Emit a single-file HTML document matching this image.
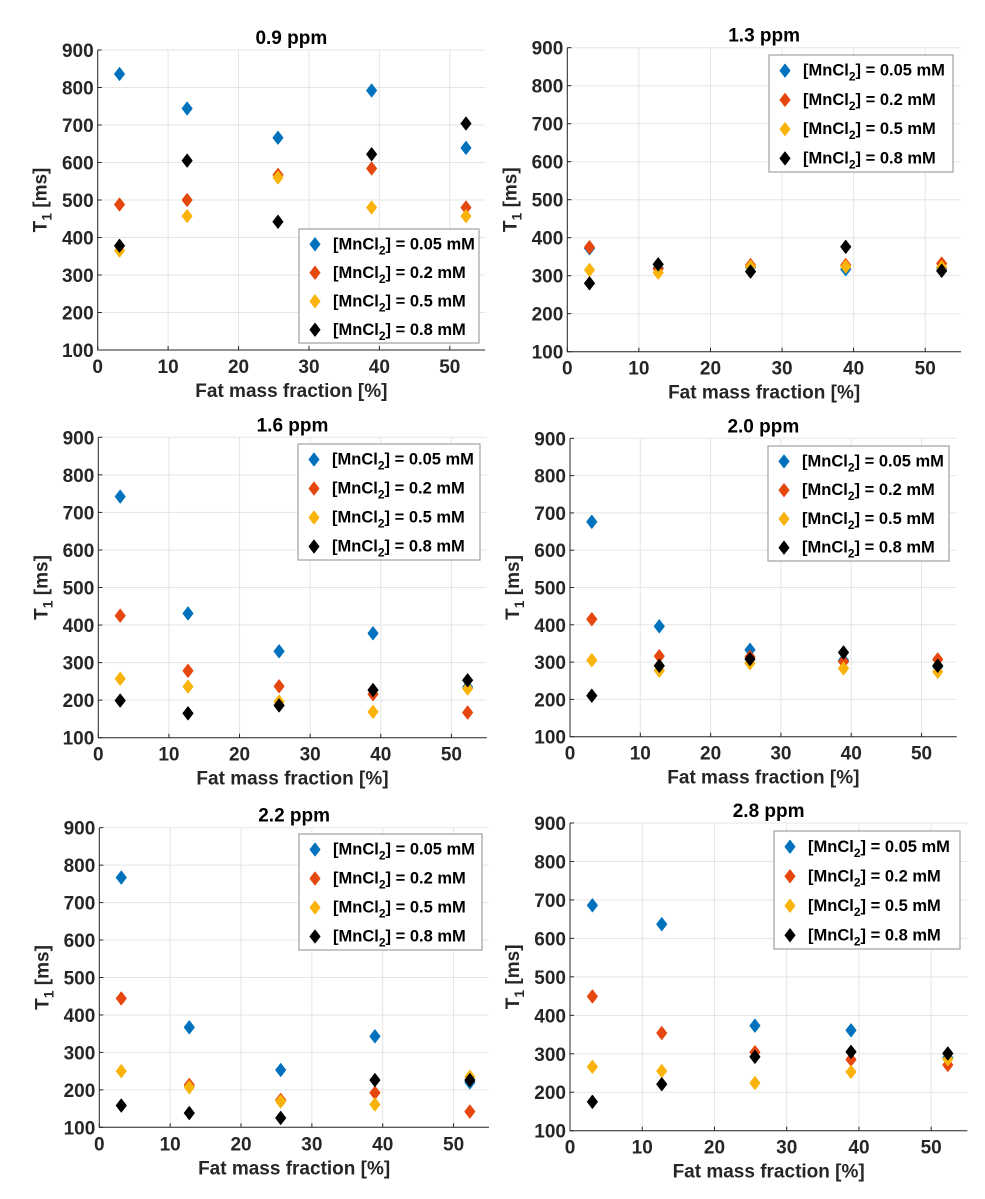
<!DOCTYPE html>
<html><head><meta charset="utf-8"><style>
html,body{margin:0;padding:0;background:#fff;}
svg{display:block;font-family:"Liberation Sans",Arial,sans-serif;font-weight:bold;}
</style></head><body>
<svg id="fig" width="985" height="1199" viewBox="0 0 985 1199" xmlns="http://www.w3.org/2000/svg"></svg>
<script>
const xTicks = [0,10,20,30,40,50];
const yTicks = [100,200,300,400,500,600,700,800,900];
const fatFraction = [3.1,12.7,25.6,38.9,52.3];
const seriesLabels = ["0.05","0.2","0.5","0.8"];
const seriesColors = ["#0072BD","#E6470F","#F9B30B","#000000"];
const titles = ["0.9 ppm","1.3 ppm","1.6 ppm","2.0 ppm","2.2 ppm","2.8 ppm"];
const p09 = [[836,744,666,792,639],[488,500,567,584,480],[365,457,560,480,457],[378,605,442,622,704]];
const p13 = [[372,320,322,317,320],[375,318,328,328,332],[315,308,324,324,322],[280,330,311,376,313]];
const p16 = [[742,431,330,378,235],[425,278,237,216,167],[257,236,196,169,231],[199,165,186,227,253]];
const p20 = [[676,396,333,305,288],[415,316,314,301,307],[305,277,297,283,274],[210,290,308,326,290]];
const p22 = [[767,367,253,343,220],[444,213,173,192,142],[250,207,169,161,235],[158,138,125,226,226]];
const p28 = [[686,637,373,361,290],[449,354,304,285,271],[266,255,224,253,286],[175,221,292,305,301]];
const panelData = [p09,p13,p16,p20,p22,p28];
// layout: [left,right,top,bottom, legend x1,y1,x2,y2]
const layout = [
 [97.7,485,50,350, 299,229,479,343],
 [567.3,961,47.7,351.7, 769,55,953,172],
 [98.3,486.7,437.3,737.7, 298,444,480,560],
 [570,956.7,438.3,736.7, 768,446,949,561],
 [99.3,489,827.7,1127.3, 299,834,482,950],
 [570,967.3,823,1130.7, 774,831,960,949]
];
const NS="http://www.w3.org/2000/svg";
const fig=document.getElementById('fig');
function mk(tag,attrs,parent){const e=document.createElementNS(NS,tag);for(const k in attrs)e.setAttribute(k,attrs[k]);(parent||fig).appendChild(e);return e;}
function diamond(g,cx,cy,col){return mk('path',{d:`M${cx} ${cy-6.5}L${cx+5} ${cy}L${cx} ${cy+6.5}L${cx-5} ${cy}Z`,fill:col,stroke:col,'stroke-width':1,'stroke-linejoin':'round'},g);}
panelData.forEach((data,pi)=>{
  const [L,R,T,B,lx1,ly1,lx2,ly2]=layout[pi];
  const g=mk('g',{});
  
  
  const xs=v=>L+(v/55)*(R-L);
  const ys=v=>B-(v-100)/800*(B-T);
  xTicks.forEach(t=>{const l=mk('line',{x1:xs(t),x2:xs(t),y1:T,y2:B,stroke:'#e5e5e5','stroke-width':1},g);
    });
  yTicks.forEach(t=>{const l=mk('line',{x1:L,x2:R,y1:ys(t),y2:ys(t),stroke:'#e5e5e5','stroke-width':1},g);
    });
  const ax=mk('path',{d:`M${L} ${T}V${B}H${R}`,fill:'none',stroke:'#262626','stroke-width':1},g);
  
  xTicks.forEach(t=>{mk('line',{x1:xs(t),x2:xs(t),y1:B,y2:B-4,stroke:'#262626'},g);
    const tx=mk('text',{x:xs(t),y:B+23,'text-anchor':'middle','font-size':19,fill:'#262626'},g);tx.textContent=t;
    });
  yTicks.forEach(t=>{mk('line',{x1:L,x2:L+4,y1:ys(t),y2:ys(t),stroke:'#262626'},g);
    const tx=mk('text',{x:L-4,y:ys(t)+7,'text-anchor':'end','font-size':19,fill:'#262626'},g);tx.textContent=t;
    });
  const tt=mk('text',{x:(L+R)/2,y:T-6,'text-anchor':'middle','font-size':19,fill:'#000'},g);tt.textContent=titles[pi];
  
  const xl=mk('text',{x:(L+R)/2,y:B+47,'text-anchor':'middle','font-size':19,fill:'#262626'},g);xl.textContent='Fat mass fraction [%]';
  
  const ylx=L-51, yly=(T+B)/2;
  const yl=mk('text',{x:ylx,y:yly,'text-anchor':'middle','font-size':19,fill:'#262626',transform:`rotate(-90 ${ylx} ${yly})`},g);
  yl.innerHTML='T<tspan font-size="14" dy="5">1</tspan><tspan dy="-5"> [ms]</tspan>';
  
  data.forEach((ser,si)=>{ser.forEach((v,i)=>{const d=diamond(g,xs(fatFraction[i]),ys(v),seriesColors[si]);
    });});
  const lg=mk('g',{},g);
  
  mk('rect',{x:lx1,y:ly1,width:lx2-lx1,height:ly2-ly1,fill:'#fff',stroke:'#a0a0a0','stroke-width':1.2},lg);
  const step=(ly2-ly1)/4;
  seriesLabels.forEach((lab,si)=>{const cy=ly1+step*(si+0.5)+1;
    const e=mk('g',{},lg);
    
    diamond(e,lx1+16,cy,seriesColors[si]);
    const t=mk('text',{x:lx1+34,y:cy+5,'font-size':16.5,fill:'#000'},e);
    t.innerHTML='[MnCl<tspan font-size="12" dy="5">2</tspan><tspan dy="-5">] = '+lab+' mM</tspan>';});
});
</script>
</body></html>
